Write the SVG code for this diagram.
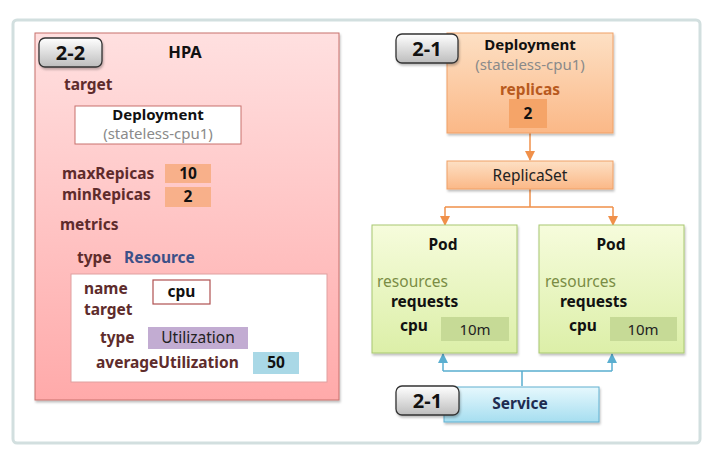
<svg xmlns="http://www.w3.org/2000/svg" width="721" height="458" viewBox="0 0 721 458">
<defs>
<linearGradient id="gPink" x1="0" y1="0" x2="0" y2="1"><stop offset="0" stop-color="#ffe0e0"/><stop offset="1" stop-color="#ffaaaa"/></linearGradient>
<linearGradient id="gOrange" x1="0" y1="0" x2="0" y2="1"><stop offset="0" stop-color="#fde0c4"/><stop offset="1" stop-color="#fbb887"/></linearGradient>
<linearGradient id="gGreen" x1="0" y1="0" x2="0" y2="1"><stop offset="0" stop-color="#f6fcdc"/><stop offset="1" stop-color="#dcefa8"/></linearGradient>
<linearGradient id="gBlue" x1="0" y1="0" x2="0" y2="1"><stop offset="0" stop-color="#e6f8fd"/><stop offset="1" stop-color="#a6def0"/></linearGradient>
<linearGradient id="gBadge" x1="0" y1="0" x2="0" y2="1"><stop offset="0" stop-color="#ffffff"/><stop offset="1" stop-color="#bdbdbd"/></linearGradient>
<filter id="sh" x="-10%" y="-10%" width="130%" height="130%"><feDropShadow dx="1" dy="2" stdDeviation="1.2" flood-color="#000" flood-opacity="0.25"/></filter>
<marker id="aO" markerWidth="10" markerHeight="10" refX="9" refY="5" orient="auto" markerUnits="userSpaceOnUse" viewBox="0 0 10 10"><path d="M0,0 L10,5 L0,10 Z" fill="#f0904a"/></marker>
<marker id="aB" markerWidth="10" markerHeight="10" refX="9" refY="5" orient="auto" markerUnits="userSpaceOnUse" viewBox="0 0 10 10"><path d="M0,0 L10,5 L0,10 Z" fill="#5aaed0"/></marker>
</defs>
<style>
text{font-family:"Noto Sans","Open Sans",sans-serif;font-size:15.5px;}
.lbl{font-weight:bold;fill:#5e2c2c;}
.b{font-weight:bold;fill:#111;}
.g{fill:#8a8a8a;}
.c{text-anchor:middle;}
.badge{fill:url(#gBadge);stroke:#333;stroke-width:1.3;}
.bt{font-size:20px;font-weight:bold;fill:#111;text-anchor:middle;}
.co{fill:none;stroke:#f0904a;stroke-width:1.5;}
.cb{fill:none;stroke:#5aaed0;stroke-width:1.5;}
</style>
<rect x="13" y="20" width="687" height="423" rx="4" fill="#fff" stroke="#d2dfdf" stroke-width="3"/>

<g id="hpa">
<rect x="35" y="33" width="304" height="367" fill="url(#gPink)" stroke="#c8706c" stroke-width="1" filter="url(#sh)"/>
<rect x="39" y="38" width="63" height="29" rx="6" class="badge" filter="url(#sh)"/>
<text x="70.5" y="60" class="bt">2-2</text>
<text x="185" y="58" class="b c" style="font-size:16.5px">HPA</text>
<text x="64" y="90" class="lbl">target</text>
<rect x="75" y="106" width="166" height="38" fill="#fff" stroke="#c8706c" stroke-width="1"/>
<text x="158" y="120" class="b c" style="font-size:15px">Deployment</text>
<text x="158" y="139" class="g c" style="font-size:15px">(stateless-cpu1)</text>
<text x="62" y="179" class="lbl">maxRepicas</text>
<rect x="165" y="164" width="46" height="19" fill="#f8b08a"/>
<text x="188" y="179" class="b c">10</text>
<text x="62" y="200" class="lbl">minRepicas</text>
<rect x="165" y="187" width="46" height="20" fill="#f8b08a"/>
<text x="188" y="202" class="b c">2</text>
<text x="60" y="230" class="lbl">metrics</text>
<text x="77" y="263" class="lbl">type</text>
<text x="124" y="263" class="lbl" style="fill:#3c5088">Resource</text>
<rect x="71" y="274" width="256" height="108" fill="#fff" stroke="#e0a0a0" stroke-width="1"/>
<text x="84" y="294" class="lbl">name</text>
<text x="84" y="315" class="lbl">target</text>
<rect x="153" y="280" width="57" height="24" fill="#fff" stroke="#b05050" stroke-width="1.2"/>
<text x="181.5" y="297" class="b c">cpu</text>
<text x="100" y="343" class="lbl">type</text>
<rect x="148" y="327" width="100" height="22" fill="#c2acd2"/>
<text x="198" y="343" class="c" style="fill:#222">Utilization</text>
<text x="96" y="368" class="lbl">averageUtilization</text>
<rect x="253" y="352" width="46" height="22" fill="#a9d8e6"/>
<text x="276" y="368" class="b c">50</text>
</g>

<g id="connectors">
<path d="M530,133 V160" class="co" marker-end="url(#aO)"/>
<path d="M530,189 V207 M445,207 H613" class="co"/>
<path d="M445,207 V225" class="co" marker-end="url(#aO)"/>
<path d="M613,207 V225" class="co" marker-end="url(#aO)"/>
<path d="M522,386 V371 M443,371 H612" class="cb"/>
<path d="M443,371 V354" class="cb" marker-end="url(#aB)"/>
<path d="M612,371 V354" class="cb" marker-end="url(#aB)"/>
</g>

<g id="deployment">
<rect x="447" y="33" width="166" height="100" fill="url(#gOrange)" stroke="#f0a066" stroke-width="1" filter="url(#sh)"/>
<text x="530" y="50" class="b c" style="font-size:15px">Deployment</text>
<text x="530" y="70" class="g c" style="font-size:15px">(stateless-cpu1)</text>
<text x="530" y="95" class="b c" style="fill:#b85a1e">replicas</text>
<rect x="509" y="99" width="38" height="29" fill="#f5a468"/>
<text x="528" y="119" class="b c">2</text>
<rect x="396" y="34" width="62" height="29" rx="6" class="badge" filter="url(#sh)"/>
<text x="427" y="56" class="bt">2-1</text>
</g>

<g id="replicaset">
<rect x="447" y="161" width="166" height="28" fill="url(#gOrange)" stroke="#f0a066" stroke-width="1" filter="url(#sh)"/>
<text x="530" y="181" class="c" style="fill:#222">ReplicaSet</text>
</g>

<g id="pod1">
<rect x="372" y="225" width="145" height="128" fill="url(#gGreen)" stroke="#a8c870" stroke-width="1" filter="url(#sh)"/>
<text x="443" y="250" class="b c">Pod</text>
<text x="377" y="287" style="fill:#7a8c44">resources</text>
<text x="391" y="307" class="b">requests</text>
<text x="400" y="331" class="b">cpu</text>
<rect x="441" y="317" width="68" height="24" fill="#c6da96"/>
<text x="475" y="335" class="c" style="font-size:15px;fill:#222">10m</text>
</g>

<g id="pod2">
<rect x="539" y="225" width="145" height="128" fill="url(#gGreen)" stroke="#a8c870" stroke-width="1" filter="url(#sh)"/>
<text x="611" y="250" class="b c">Pod</text>
<text x="545" y="287" style="fill:#7a8c44">resources</text>
<text x="560" y="307" class="b">requests</text>
<text x="569" y="331" class="b">cpu</text>
<rect x="610" y="317" width="67" height="24" fill="#c6da96"/>
<text x="643" y="335" class="c" style="font-size:15px;fill:#222">10m</text>
</g>

<g id="service">
<rect x="444" y="387" width="155" height="35" fill="url(#gBlue)" stroke="#60b0d0" stroke-width="1" filter="url(#sh)"/>
<text x="520" y="409" class="b c" style="fill:#1e2c50">Service</text>
<rect x="396" y="386" width="63" height="29" rx="6" class="badge" filter="url(#sh)"/>
<text x="427.5" y="408" class="bt">2-1</text>
</g>
</svg>
